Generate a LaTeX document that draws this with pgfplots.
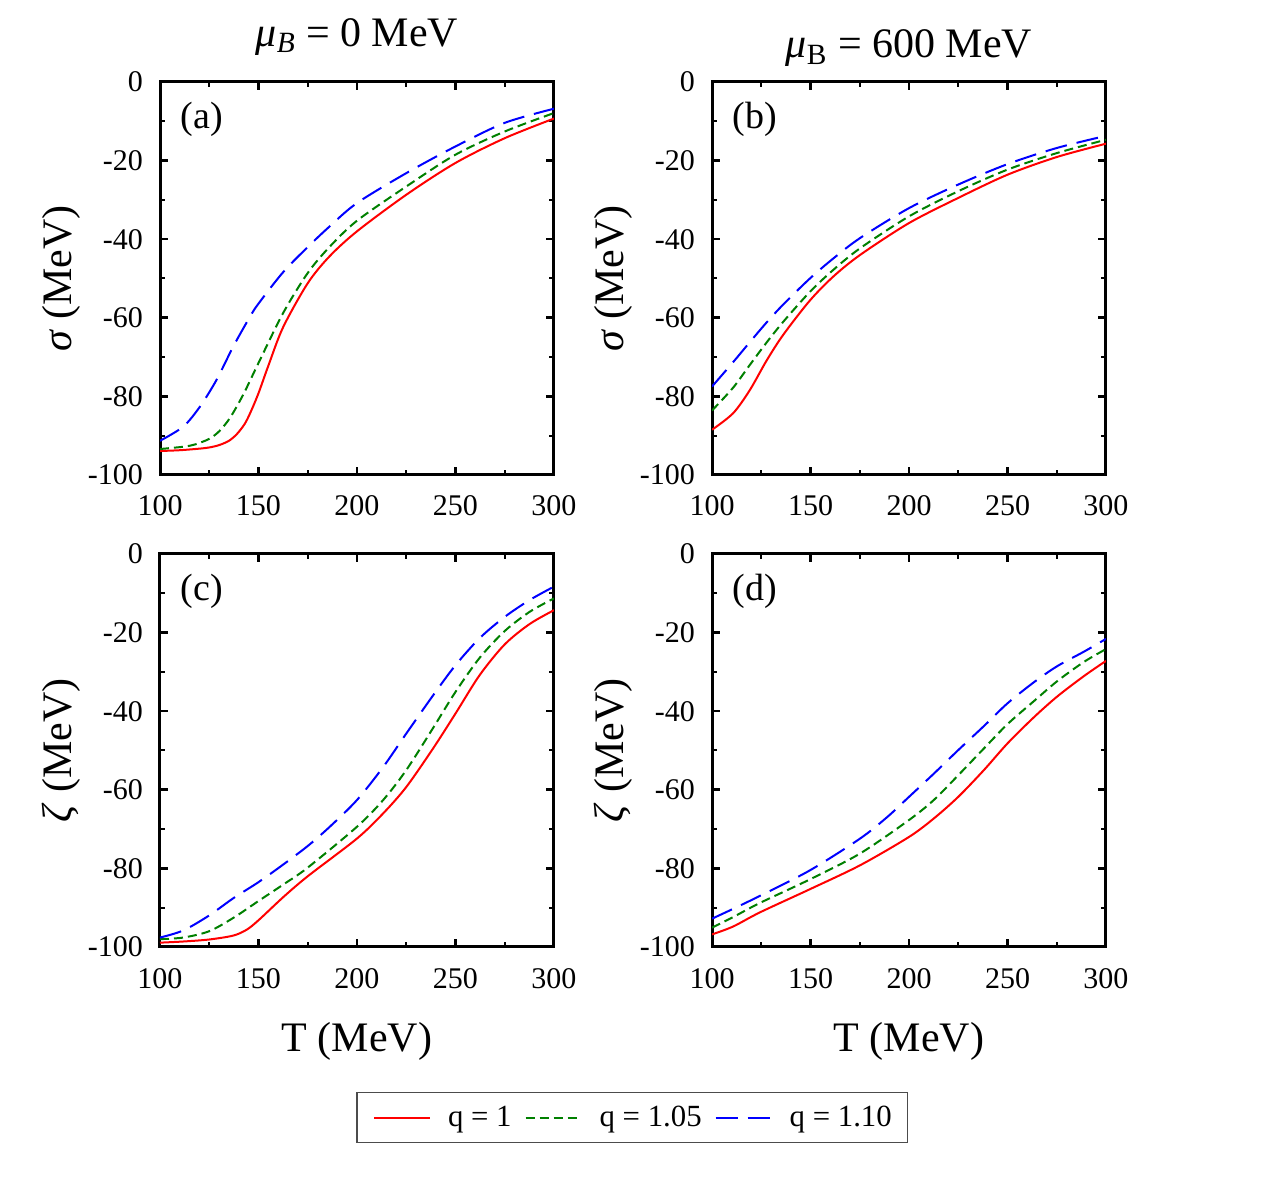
\documentclass[border=0pt]{standalone}
\usepackage{pgfplots}
\pgfplotsset{compat=1.18}
\usepackage{fontspec}
\setmainfont{Liberation Serif}
\definecolor{cred}{RGB}{255,0,0}
\definecolor{cgreen}{RGB}{0,128,0}
\definecolor{cblue}{RGB}{0,0,255}
\pgfplotsset{
 panel/.style={
  scale only axis, width=197pt, height=196.5pt,
  xmin=100, xmax=300, ymin=-100, ymax=0,
  xtick={100,150,200,250,300}, ytick={-100,-80,-60,-40,-20,0},
  xticklabels={100,150,200,250,300},
  yticklabels={-100,-80,-60,-40,-20,0},
  minor x tick num=1, minor y tick num=1,
  tick align=inside,
  axis line style={line width=1.5pt},
  major tick length=4pt, minor tick length=2.5pt,
  every major tick/.append style={black, line width=1.3pt},
  every minor tick/.append style={black, line width=1pt},
  tick label style={font=\fontsize{15}{18}\selectfont\rmfamily},
  xticklabel style={yshift=-7pt},
  yticklabel style={xshift=-5pt},
  label style={font=\fontsize{21}{25}\selectfont},
  ylabel style={at={(axis description cs:-0.251,0.5)}, anchor=center},
  xlabel style={at={(axis description cs:0.5,-0.239)}, anchor=center},
  title style={font=\fontsize{21}{25}\selectfont, anchor=base, yshift=-6.5pt},
 },
 rline/.style={cred, solid, line width=1pt, smooth},
 gline/.style={cgreen, dash pattern=on 4.5pt off 2.5pt, line width=1pt, smooth},
 bline/.style={cblue, dash pattern=on 11pt off 5pt, line width=1pt, smooth},
}
\newcommand{\plab}[1]{\node[anchor=west, inner sep=0pt, font=\fontsize{19}{22}\selectfont] at (rel axis cs:0.051,0.906) {#1};}
\begin{document}
\begin{tikzpicture}
\useasboundingbox (0,0) rectangle (633pt,593.5pt);
% (a)
\begin{axis}[panel, at={(80pt,356pt)}, anchor=south west,
  ylabel={\textit{σ} (MeV)},
  title={\textit{μ}\textsubscript{\textit{B}} = 0 MeV},
  title style={at={(axis description cs:0.5,1.094)}}]
\addplot[rline] coordinates {(100,-93.9) (110,-93.7) (120,-93.3) (125,-93.0) (130,-92.4) (135,-91.3) (139,-89.6) (143,-87.0) (146,-84.0) (150,-79.2) (155,-72.2) (162.5,-62.4) (175,-51.2) (186,-44.4) (200,-38.0) (225,-28.7) (250,-20.6) (275,-14.3) (300,-9.3)};
\addplot[gline] coordinates {(100,-93.4) (112,-92.8) (118,-92.2) (125,-90.8) (130,-88.9) (135.5,-85.5) (142.3,-79.5) (150,-71.5) (162.5,-58.8) (175,-48.6) (186,-42.0) (200,-35.3) (225,-26.6) (250,-18.5) (275,-12.6) (300,-7.9)};
\addplot[bline] coordinates {(100,-91.3) (111.8,-87.7) (120.3,-82.6) (128.7,-75.8) (137.2,-67.3) (145.6,-59.8) (150,-56.4) (162.5,-48.4) (175,-42.0) (186,-36.8) (200,-30.8) (225,-23.2) (250,-16.4) (275,-10.4) (300,-6.8)};
\plab{(a)}
\end{axis}
% (b)
\begin{axis}[panel, at={(356pt,356pt)}, anchor=south west,
  ylabel={\textit{σ} (MeV)},
  title={\textit{μ}\textsubscript{B} = 600 MeV},
  title style={at={(axis description cs:0.5,1.064)}}]
\addplot[rline] coordinates {(100,-88.5) (110.7,-84.3) (119.2,-78.4) (127.7,-70.9) (136.2,-64.3) (149.7,-55.6) (161.6,-49.5) (175.2,-44.0) (200,-35.9) (225,-29.5) (250,-23.6) (275,-19.1) (300,-15.7)};
\addplot[gline] coordinates {(100,-83.6) (110.7,-77.8) (119.2,-72.0) (127.7,-66.3) (136.2,-61.0) (149.7,-53.4) (161.6,-47.8) (175.2,-42.3) (200,-34.2) (225,-27.8) (250,-22.3) (275,-18.1) (300,-14.7)};
\addplot[bline] coordinates {(100,-77.5) (110.7,-71.3) (119.2,-66.2) (127.7,-61.2) (136.2,-56.6) (149.7,-50.0) (161.6,-44.9) (175.2,-39.7) (200,-32.1) (225,-26.1) (250,-20.9) (275,-16.8) (300,-13.7)};
\plab{(b)}
\end{axis}
% (c)
\begin{axis}[panel, at={(80pt,120pt)}, anchor=south west,
  ylabel={\textit{ζ} (MeV)}, xlabel={T (MeV)},
  legend columns=3,
  legend style={at={(axis description cs:1.199,-0.434)}, anchor=center,
    draw=black!70, line width=0.6pt, inner xsep=8pt, inner ysep=6.75pt,
    font=\fontsize{15.4}{18}\selectfont,
    nodes={inner sep=0pt},
    /tikz/every even column/.append style={column sep=6.5pt},
    /tikz/every odd column/.append style={column sep=8.5pt}},
  legend image code/.code={\draw[#1] (0pt,0pt) -- (28pt,0pt);}]
\addplot[rline] coordinates {(100,-98.9) (112,-98.6) (124.9,-98.1) (137.2,-97.1) (144,-95.6) (150,-93.2) (162.6,-87.3) (175,-82.0) (200,-72.4) (213.3,-66.0) (225,-59.3) (238.6,-49.5) (250,-40.6) (262.3,-30.8) (275,-23.0) (287.7,-17.8) (300,-14.3)};
\addlegendentry{q = 1}
\addplot[gline] coordinates {(100,-98.0) (111.8,-97.6) (124.9,-96.0) (137.2,-92.6) (150,-88.3) (162.6,-84.1) (175,-79.8) (200,-69.4) (213.3,-62.6) (225,-55.0) (238.6,-44.3) (250,-35.1) (262.3,-26.4) (275,-19.6) (287.7,-14.7) (300,-11.3)};
\addlegendentry{q = 1.05}
\addplot[bline] coordinates {(100,-97.6) (111.8,-95.8) (124.9,-92.0) (137.2,-87.6) (150,-83.5) (162.6,-79.0) (175,-74.3) (186.2,-69.4) (200,-62.6) (213.3,-54.2) (225,-45.7) (238.6,-36.0) (250,-28.3) (262.3,-21.4) (275,-16.0) (287.7,-11.7) (300,-8.3)};
\addlegendentry{q = 1.10}
\plab{(c)}
\end{axis}
% (d)
\begin{axis}[panel, at={(356pt,120pt)}, anchor=south west,
  ylabel={\textit{ζ} (MeV)}, xlabel={T (MeV)}]
\addplot[rline] coordinates {(100,-96.8) (110.7,-94.8) (124.3,-91.2) (149.7,-85.3) (175.2,-79.2) (200,-72.0) (212.6,-67.3) (225,-61.8) (238,-55.0) (250,-48.2) (263.5,-41.5) (275.4,-36.2) (289,-31.0) (300,-27.2)};
\addplot[gline] coordinates {(100,-95.1) (110.7,-92.4) (124.3,-88.8) (149.7,-82.8) (175.2,-76.2) (200,-67.7) (212.6,-62.6) (225,-56.3) (238,-49.5) (250,-43.3) (263.5,-37.4) (275.4,-32.3) (289,-27.4) (300,-24.2)};
\addplot[bline] coordinates {(100,-92.8) (110.7,-90.3) (124.3,-87.0) (149.7,-80.5) (175.2,-72.4) (188.8,-67.0) (200,-61.8) (212.6,-55.9) (225,-49.9) (238,-43.8) (250,-38.0) (263.5,-32.6) (275.4,-28.5) (289,-24.8) (300,-21.6)};
\plab{(d)}
\end{axis}
\end{tikzpicture}
\end{document}
